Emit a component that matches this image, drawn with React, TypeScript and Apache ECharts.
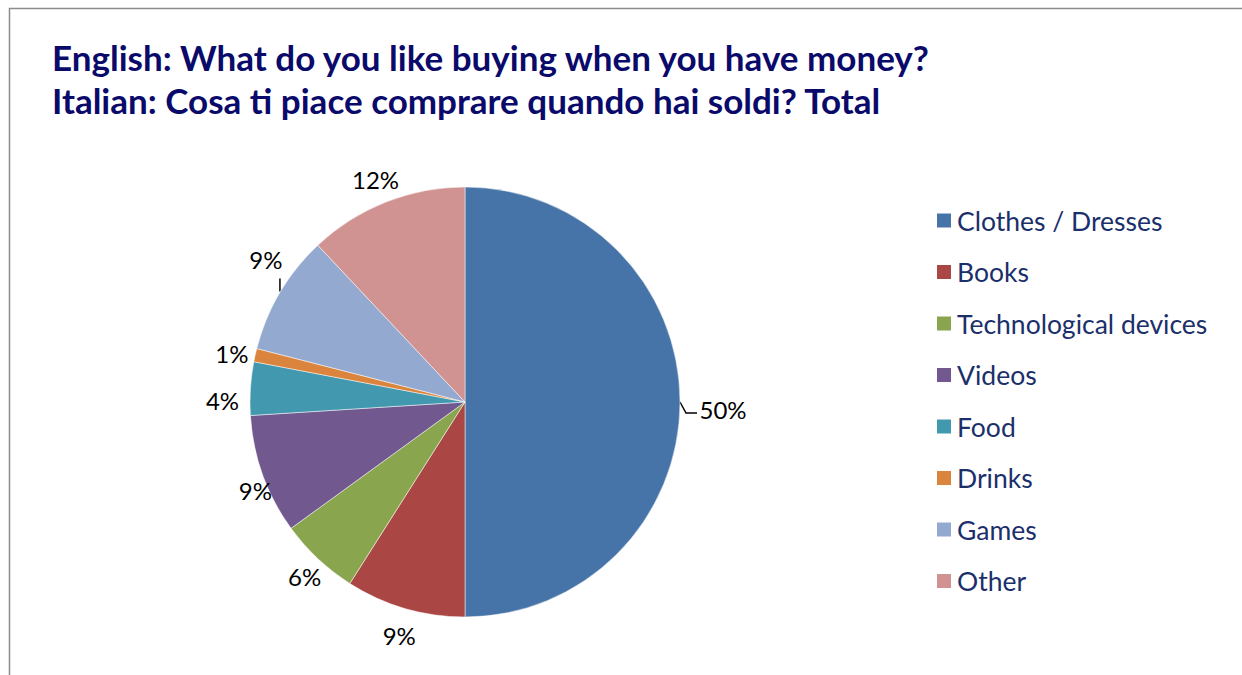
import React, { useEffect, useRef } from "react";
import * as echarts from "echarts";

const categories = [
  "Clothes / Dresses",
  "Books",
  "Technological devices",
  "Videos",
  "Food",
  "Drinks",
  "Games",
  "Other",
];
const values = [50, 9, 6, 9, 4, 1, 9, 12];
const colors = ["#4674A8", "#AA4643", "#89A54E", "#71588F", "#4198AF", "#DB843D", "#93A9CF", "#D19392"];
const titleLines = [
  "English: What do you like buying when you have money?",
  "Italian: Cosa ti piace comprare quando hai soldi? Total",
];
const showLine = [true, false, false, false, false, false, true, false];
// small nudges of each percentage label (px), mimicking the original placement
const labelNudge: [number, number][] = [
  [15, 7], [2, 0], [6, -3], [19, 6], [0, 14], [4, 5], [10, -19], [0, 3],
];

export default function App() {
  const ref = useRef<HTMLDivElement>(null);
  useEffect(() => {
    if (!ref.current) return;
    const chart = echarts.init(ref.current, null, { renderer: "svg" });
    chart.setOption({
      animation: false,
      backgroundColor: "#fff",
      title: {
        text: titleLines.join("\n"),
        left: 47,
        top: 30,
        textStyle: {
          fontFamily: "Lato",
          fontWeight: "bold",
          fontSize: 35,
          lineHeight: 43,
          color: "#0A0A6A",
        },
      },
      graphic: [
        {
          type: "polyline",
          shape: { points: [[9.5, 700], [9.5, 8.5], [1300, 8.5]] },
          style: { stroke: "#8c8c8c", lineWidth: 1.5, fill: null },
        },
      ],
      legend: {
        orient: "vertical",
        left: 930,
        top: 202,
        itemWidth: 16,
        itemHeight: 16,
        itemGap: 24.5,
        icon: "rect",
        textStyle: { fontFamily: "Lato", fontSize: 26.5, lineHeight: 24, color: "#1B2F6B", padding: [0, 0, 0, 0] },
        data: categories,
      },
      series: [
        {
          type: "pie",
          center: [465, 402],
          radius: 215,
          startAngle: 90,
          clockwise: true,
          color: colors,
          silent: true,
          itemStyle: { borderColor: "#fff", borderWidth: 0.5 },
          label: {
            show: true,
            position: "outside",
            formatter: " ",
            fontFamily: "Lato",
            fontSize: 1,
            color: "rgba(0,0,0,0)",
          },
          labelLine: { show: true, length: 10, length2: 8, lineStyle: { color: "#000", width: 1.5 } },
          labelLayout: (params: any) => {
            const pts = params.labelLinePoints;
            if (!pts) return {};
            const p0 = pts[0];
            if (params.dataIndex === 0) {
              return { labelLinePoints: [p0, [p0[0] + 6, p0[1] + 11], [p0[0] + 17, p0[1] + 11]] };
            }
            if (params.dataIndex === 6) {
              return { labelLinePoints: [[p0[0], p0[1] - 1], [p0[0], p0[1] - 14], [p0[0], p0[1] - 14]] };
            }
            return {};
          },
          data: categories.map((name, i) => ({
            name,
            value: values[i],
            label: { show: showLine[i] },
            labelLine: { show: showLine[i] },
          })),
        },
        {
          type: "pie",
          center: [465, 402],
          radius: [226, 254],
          startAngle: 90,
          clockwise: true,
          silent: true,
          itemStyle: { color: "rgba(0,0,0,0)" },
          label: {
            show: true,
            position: "inside",
            formatter: "{c}%",
            fontFamily: "Lato",
            fontSize: 24,
            color: "#000",
          },
          labelLine: { show: false },
          labelLayout: (params: any) => {
            const n = labelNudge[params.dataIndex] || [0, 0];
            return { dx: n[0], dy: n[1] };
          },
          data: categories.map((name, i) => ({ name, value: values[i] })),
        },
      ],
    });
    return () => chart.dispose();
  }, []);
  return <div ref={ref} style={{ position: "absolute", left: 0, top: 0, width: 1242, height: 675 }} />;
}
